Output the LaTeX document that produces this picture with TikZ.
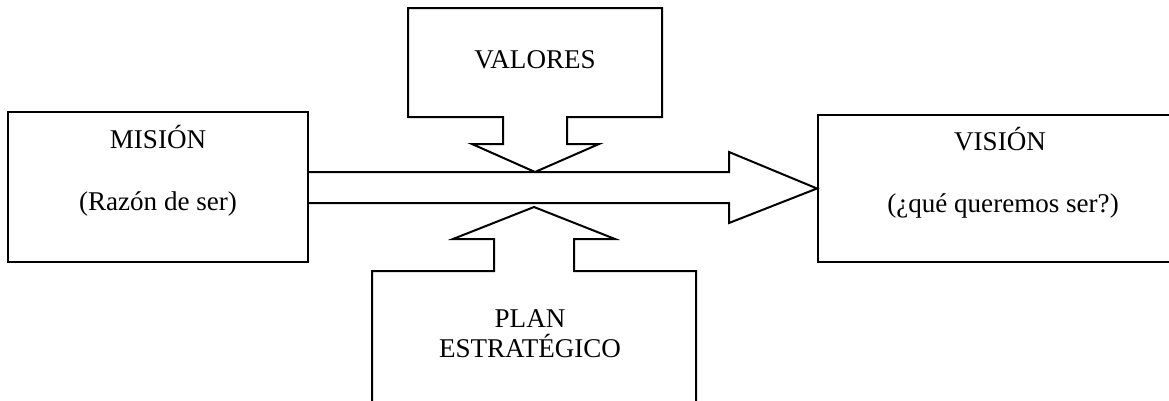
\documentclass[tikz,border=0pt]{standalone}
\usepackage{fontspec}
\setmainfont{Liberation Serif}
\begin{document}
\begin{tikzpicture}[x=0.75pt,y=-0.75pt,line width=1.5pt,
  outline/.style={draw=black,fill=white,line join=miter},
  boxnode/.style={draw=black,fill=white,rectangle,inner sep=0pt},
  lbl/.style={font=\fontsize{20.3}{24}\selectfont,anchor=base,inner sep=0pt}]
\useasboundingbox (0,0) rectangle (1169,400);
% main boxes
\node[boxnode,minimum width=225pt,minimum height=112.5pt] (mision) at (158,187) {};
\node[boxnode,minimum width=265.5pt,minimum height=110.25pt] (vision) at (995,188.5) {};
% big arrow from mision to vision
\coordinate (a1) at ([yshift=11.25pt]mision.east);
\coordinate (a2) at ([yshift=-12pt]mision.east);
\draw[outline,fill=none] (a1) -- (729,172) -- (729,152) -- (vision.west) -- (729,223) -- (729,203) -- (a2);
% VALORES callout
\draw[outline] (408,8) -- (662,8) -- (662,117) -- (567,117) -- (567,144) -- (599,144)
  -- (535,172) -- (472,144) -- (503,144) -- (503,117) -- (408,117) -- cycle;
% PLAN callout
\draw[outline] (372,412) -- (372,271) -- (494,271) -- (494,239) -- (453,239) -- (534,207)
  -- (615,239) -- (574,239) -- (574,271) -- (696,271) -- (696,412);
% texts
\node[lbl] (t1) at (158,148) {MISIÓN};
\node[lbl] (t2) at (158,210) {(Razón de ser)};
\node[lbl] (t3) at (1000,150) {VISIÓN};
\node[lbl] (t4) at (1003,212) {(¿qué queremos ser?)};
\node[lbl] (t5) at (535,68) {VALORES};
\node[lbl] (t6) at (530,327) {PLAN};
\node[lbl] (t7) at (530,357) {ESTRATÉGICO};
\end{tikzpicture}
\end{document}
